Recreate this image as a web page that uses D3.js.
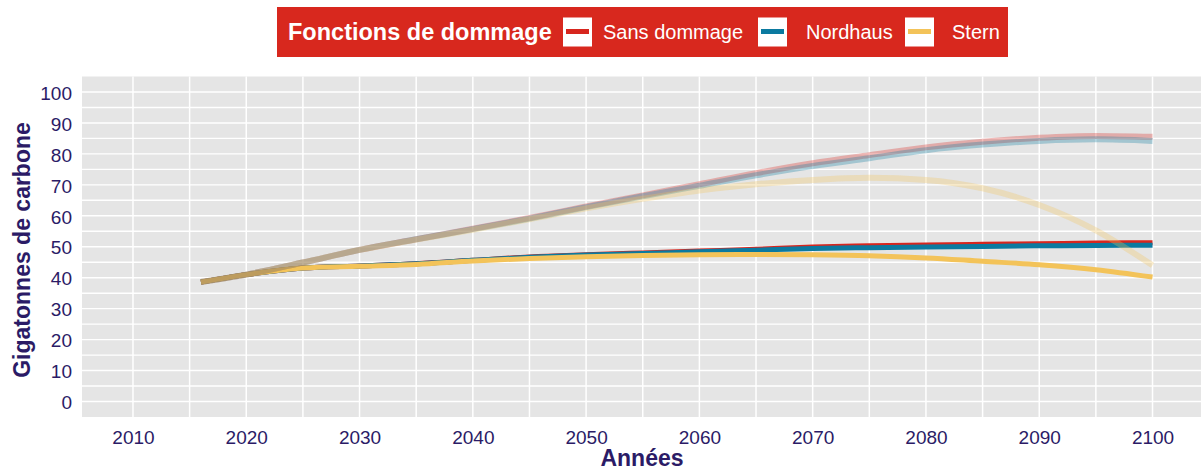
<!DOCTYPE html>
<html>
<head>
<meta charset="utf-8">
<script src="https://cdn.jsdelivr.net/npm/d3@7"></script>
<style>
  body { margin: 0; background: #fff; }
  text { font-family: "Liberation Sans", Arial, sans-serif; }
</style>
</head>
<body>
<svg id="chart" width="1201" height="470"></svg>
<script>
// annees (tous les 5 ans)
var annees = [2016, 2020, 2025, 2030, 2035, 2040, 2045, 2050, 2055, 2060, 2065, 2070, 2075, 2080, 2085, 2090, 2095, 2100];

// courbes du haut (transparentes)
var sansDommageHaut = [38.6, 41.0, 44.9, 49.0, 52.4, 55.8, 59.3, 63.0, 66.6, 70.2, 73.8, 77.0, 79.6, 82.1, 83.9, 85.2, 85.8, 85.5];
var nordhausHaut    = [38.6, 41.0, 44.9, 49.0, 52.4, 55.7, 59.1, 62.8, 66.3, 69.7, 73.1, 76.1, 78.6, 81.2, 83.0, 84.2, 84.7, 84.2];
var sternHaut       = [38.6, 41.0, 44.9, 49.0, 52.3, 55.5, 58.9, 62.4, 65.5, 68.2, 70.2, 71.6, 72.3, 71.6, 68.9, 63.5, 55.3, 44.0];

// courbes du bas (opaques)
var sansDommageBas = [38.6, 41.0, 43.1, 43.8, 44.5, 45.6, 46.7, 47.4, 48.0, 48.6, 49.2, 49.9, 50.3, 50.6, 50.8, 51.0, 51.2, 51.3];
var nordhausBas    = [38.6, 41.0, 43.1, 43.8, 44.5, 45.6, 46.6, 47.3, 47.8, 48.4, 48.9, 49.4, 49.7, 49.9, 50.1, 50.3, 50.4, 50.5];
var sternBas       = [38.6, 41.0, 43.1, 43.7, 44.3, 45.4, 46.2, 46.8, 47.2, 47.4, 47.5, 47.4, 47.1, 46.4, 45.3, 44.2, 42.6, 40.2];

var ticksX = [2010, 2020, 2030, 2040, 2050, 2060, 2070, 2080, 2090, 2100];
var ticksY = [0, 10, 20, 30, 40, 50, 60, 70, 80, 90, 100];

var noms = ["Sans dommage", "Nordhaus", "Stern"];
var couleurs = ["#d7261e", "#0b7aa0", "#f3c359"];
var encre = "#2b1b66";

var svg = d3.select("#chart");

var x = d3.scaleLinear().domain([2005.5, 2104.5]).range([82, 1203.5]);
var y = d3.scaleLinear().domain([-5, 105]).range([417, 76.5]);

// panneau
svg.append("rect")
  .attr("x", 82).attr("y", 76.5)
  .attr("width", 1201 - 82).attr("height", 417 - 76.5)
  .attr("fill", "#e5e5e5");

var grille = svg.append("g");
grille.selectAll("line.h")
  .data(d3.range(0, 101, 5))
  .enter().append("line")
  .attr("x1", 82).attr("x2", 1201)
  .attr("y1", function(d) { return y(d); })
  .attr("y2", function(d) { return y(d); })
  .attr("stroke", "#fff").attr("stroke-width", 1.4);
grille.selectAll("line.v")
  .data(d3.range(2010, 2101, 5))
  .enter().append("line")
  .attr("y1", 76.5).attr("y2", 417)
  .attr("x1", function(d) { return x(d); })
  .attr("x2", function(d) { return x(d); })
  .attr("stroke", "#fff").attr("stroke-width", 1.5);

var ligne = d3.line()
  .x(function(d, i) { return x(annees[i]); })
  .y(function(d) { return y(d); })
  .curve(d3.curveMonotoneX);

var haut = [sansDommageHaut, nordhausHaut, sternHaut];
var bas = [sansDommageBas, nordhausBas, sternBas];

// opaques d'abord, transparentes par-dessus
svg.append("g").selectAll("path")
  .data(bas)
  .enter().append("path")
  .attr("d", ligne)
  .attr("fill", "none")
  .attr("stroke", function(d, i) { return couleurs[i]; })
  .attr("stroke-width", 5);

svg.append("g").selectAll("path")
  .data(haut)
  .enter().append("path")
  .attr("d", ligne)
  .attr("fill", "none")
  .attr("stroke", function(d, i) { return couleurs[i]; })
  .attr("stroke-width", 6)
  .attr("stroke-opacity", 0.3);

// axes
var axeX = svg.append("g")
  .attr("transform", "translate(0,444)")
  .call(d3.axisBottom(x).tickValues(ticksX).tickFormat(d3.format("d")).tickSize(0).tickPadding(0));
axeX.select(".domain").remove();
axeX.selectAll("text")
  .attr("dy", 0).attr("y", 0)
  .attr("fill", encre).style("font-size", "19px");

var axeY = svg.append("g")
  .attr("transform", "translate(72,0)")
  .call(d3.axisLeft(y).tickValues(ticksY).tickSize(0).tickPadding(0));
axeY.select(".domain").remove();
axeY.selectAll("text")
  .attr("dy", "0.38em").attr("x", 0)
  .attr("fill", encre).style("font-size", "19px");

svg.append("text")
  .attr("x", 642).attr("y", 466)
  .attr("text-anchor", "middle")
  .attr("fill", encre)
  .style("font-size", "23px").style("font-weight", "bold")
  .text("Années");

svg.append("text")
  .attr("transform", "translate(30,250) rotate(-90)")
  .attr("text-anchor", "middle")
  .attr("fill", encre)
  .style("font-size", "23px").style("font-weight", "bold")
  .text("Gigatonnes de carbone");

// légende
var leg = svg.append("g");
leg.append("rect")
  .attr("x", 277).attr("y", 7)
  .attr("width", 731).attr("height", 50)
  .attr("fill", "#d8281e");
leg.append("text")
  .attr("x", 288).attr("y", 40)
  .attr("fill", "#fff")
  .style("font-size", "23.5px").style("font-weight", "bold")
  .text("Fonctions de dommage");

var clesX = [563, 758, 905];
var textesX = [603, 806, 952];
noms.forEach(function(n, i) {
  leg.append("rect")
    .attr("x", clesX[i]).attr("y", 17.5)
    .attr("width", 29).attr("height", 29)
    .attr("fill", "#fff");
  leg.append("line")
    .attr("x1", clesX[i] + 3).attr("x2", clesX[i] + 26)
    .attr("y1", 31.5).attr("y2", 31.5)
    .attr("stroke", couleurs[i]).attr("stroke-width", 5);
  leg.append("text")
    .attr("x", textesX[i]).attr("y", 38.5)
    .attr("fill", "#fff")
    .style("font-size", "20px")
    .text(n);
});
</script>
</body>
</html>
